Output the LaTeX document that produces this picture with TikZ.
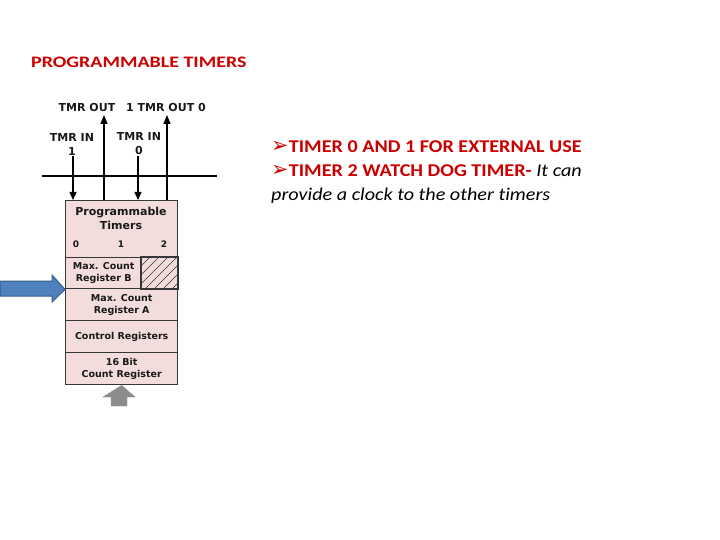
\documentclass[tikz,border=0pt]{standalone}
\usepackage{fontspec}
\setmainfont{Carlito}[Ligatures=NoCommon]
\newfontfamily\slidefont{Carlito}[FakeStretch=1.12, Ligatures=NoCommon]
\newfontfamily\titlefont{Carlito}[FakeStretch=1.25, Ligatures=NoCommon]
\newfontfamily\symfont{DejaVu Sans}
\newfontfamily\blockfont{DejaVu Sans}
\usepackage{tikz}
\usetikzlibrary{arrows.meta}

\definecolor{titlered}{RGB}{204,0,0}
\definecolor{blockpink}{RGB}{243,220,220}
\definecolor{blockline}{RGB}{55,55,55}
\definecolor{arrowblue}{RGB}{79,129,189}
\definecolor{arrowblueedge}{RGB}{56,93,138}
\definecolor{arrowgray}{RGB}{140,140,140}

\newcommand{\bulletmark}{{\symfont\fontsize{21}{22}\selectfont ➢}}

\tikzset{
	regbox/.style= {draw=blockline, fill=blockpink, line width=1.4pt, anchor=north west,
		minimum width=112pt, inner sep=0pt, align=center, text=black!90,
		font=\blockfont\bfseries\fontsize{9.5}{12}\selectfont},
	pinlabel/.style= {align=center, inner sep=1pt, text=black!90,
		font=\blockfont\bfseries\fontsize{11}{14}\selectfont},
	numlabel/.style= {text=black!90, inner sep=0pt, font=\blockfont\bfseries\fontsize{9}{10}\selectfont},
	slideline/.style= {anchor=base west, inner sep=0pt, font=\slidefont\fontsize{18}{22}\selectfont},
	inarrow/.style= {line width=1.3pt, -{Triangle[length=8pt,width=7pt]}},
	outarrow/.style= {line width=1.3pt, -{Triangle[length=9pt,width=7pt]}},
}

\begin{document}
\begin{tikzpicture}[x=1pt, y=-1pt]
	\useasboundingbox (0,0) rectangle (720,540);

	% title and bullet text
	\node [anchor=base west, inner sep=0pt, text=titlered, font=\titlefont\bfseries\fontsize{16}{19}\selectfont] (title) at (31,68) {PROGRAMMABLE TIMERS};
	\node [slideline] (lineone) at (271,153)
		{\color{titlered}\bulletmark\textbf{TIMER 0 AND 1 FOR EXTERNAL USE}};
	\node [slideline] (linetwo) at (271,177)
		{{\color{titlered}\bulletmark\textbf{TIMER 2 WATCH DOG TIMER-}} \textit{It can}};
	\node [slideline] (linethree) at (271,201)
		{\textit{provide a clock to the other timers}};

	% register block
	\node [regbox, minimum height=57pt] (ptimers) at (65,200) {};
	\node [regbox, minimum width=76pt, minimum height=31pt] (maxb) at (65,257) {Max. Count\\Register B};
	\node [regbox, minimum width=36pt, minimum height=31pt] (spare) at (141,257) {};
	\node [regbox, minimum height=32pt] (maxa) at (65,288) {Max. Count\\Register A};
	\node [regbox, minimum height=32pt] (ctrl) at (65,320) {Control Registers};
	\node [regbox, minimum height=32pt] (count) at (65,352) {16 Bit\\Count Register};

	% hatched corner
	\begin{scope}
		\clip (spare.north west) rectangle (spare.south east);
		\foreach \s in {0,9,...,72}
			\draw [blockline, line width=0.7pt] (141+\s-31,288) -- ++(31,-31);
	\end{scope}
	\draw [blockline, line width=1.4pt] (spare.north west) rectangle (spare.south east);

	\node [pinlabel] (ptname) at (121,218) {Programmable\\Timers};
	\node [numlabel] (tzero) at (76,244) {0};
	\node [numlabel] (tone) at (121,244) {1};
	\node [numlabel] (ttwo) at (164,244) {2};

	% pins on top
	\node [pinlabel] (inone) at (72,144) {TMR IN\\1};
	\node [pinlabel] (inzero) at (139,144) {TMR IN\\0};
	\node [pinlabel] (outone) at (87,107) {TMR OUT};
	\node [pinlabel] (outzero) at (166,107) {1 TMR OUT 0};
	\coordinate (outonetip) at (104,115);
	\coordinate (outzerotip) at (167,115);

	\draw [inarrow] (inone.south -| 73,0) -- (73,0 |- ptimers.north);
	\draw [inarrow] (inzero.south -| 138,0) -- (138,0 |- ptimers.north);
	\draw [outarrow] (outonetip |- ptimers.north) -- (outonetip);
	\draw [outarrow] (outzerotip |- ptimers.north) -- (outzerotip);

	% bus line
	\coordinate (busleft) at (42,176);
	\coordinate (busright) at (217,176);
	\draw [line width=1.2pt] (busleft) -- (busright);

	% big arrows
	\draw [fill=arrowblue, draw=arrowblueedge, line width=1pt] (0,281) -- (52,281) -- (52,275) -- (maxb.south west) -- (52,302) -- (52,296) -- (0,296) -- cycle;
	\draw [fill=arrowgray, draw=arrowgray] (count.south) -- (135,397) -- (127,397) -- (127,406) -- (111,406) -- (111,397) -- (103,397) -- cycle;

\end{tikzpicture}
\end{document}
